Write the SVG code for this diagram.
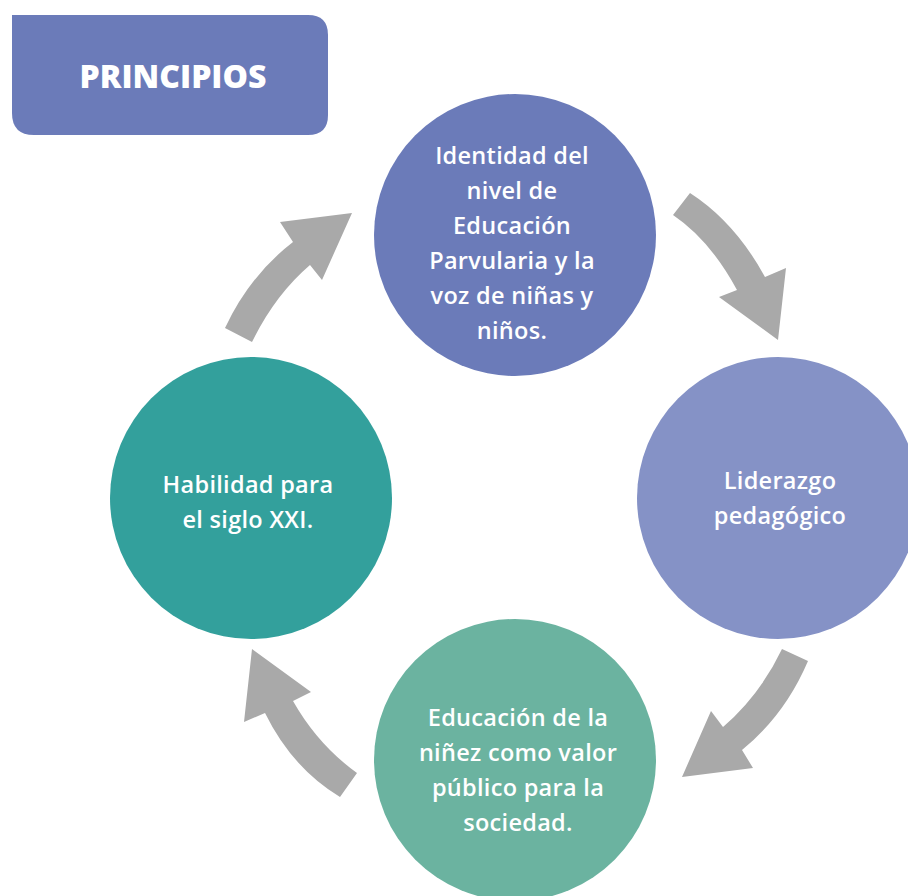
<svg xmlns="http://www.w3.org/2000/svg" width="908" height="896" viewBox="0 0 908 896">
<style>
.t{font-family:"Open Sans","Liberation Sans",sans-serif;font-weight:600;font-size:23.5px;letter-spacing:0.3px;fill:#fff;text-anchor:middle}
.ttl{font-family:"Open Sans","Liberation Sans",sans-serif;font-weight:800;font-size:32px;fill:#fff;text-anchor:middle}
.arr{fill:#a9a9a9}
</style>
<rect width="908" height="896" fill="#fff"/>
<g id="title">
<path d="M12,15 H308 Q328,15 328,35 V115 Q328,135 308,135 H34 Q12,135 12,113 Z" fill="#6b7bb9"/>
<text class="ttl" x="173" y="88">PRINCIPIOS</text>
</g>
<g id="connectors">
<path class="arr" d="M690,193 Q735,222 765,277 L786,268 L778,340 L719,297 L737,290 Q710,240 673,215 Z"/>
<path class="arr" d="M808,661 Q785,715 742,750 L753,768 L682,777 L711,711 L723,727 Q760,695 782,649 Z"/>
<path class="arr" d="M357,773 Q318,745 293,701 L311,692 L252,649 L244,722 L265,713 Q292,768 340,797 Z"/>
<path class="arr" d="M252,342 Q275,295 310,265 L322,280 L352,213 L280,222 L293,242 Q250,275 225,328 Z"/>
</g>
<g id="node-identidad">
<circle cx="515" cy="235" r="141" fill="#6b7bb9"/>
<text class="t" x="512" y="164">Identidad del</text>
<text class="t" x="512" y="199">nivel de</text>
<text class="t" x="512" y="234">Educación</text>
<text class="t" x="512" y="269">Parvularia y la</text>
<text class="t" x="512" y="304">voz de niñas y</text>
<text class="t" x="512" y="339">niños.</text>
</g>
<g id="node-liderazgo">
<circle cx="778" cy="498" r="141" fill="#8592c6"/>
<text class="t" x="780" y="489">Liderazgo</text>
<text class="t" x="780" y="524">pedagógico</text>
</g>
<g id="node-educacion">
<circle cx="515" cy="760" r="141" fill="#6bb3a0"/>
<text class="t" x="518" y="726">Educación de la</text>
<text class="t" x="518" y="761">niñez como valor</text>
<text class="t" x="518" y="796">público para la</text>
<text class="t" x="518" y="831">sociedad.</text>
</g>
<g id="node-habilidad">
<circle cx="251" cy="498" r="141" fill="#33a09c"/>
<text class="t" x="248" y="493">Habilidad para</text>
<text class="t" x="248" y="528">el siglo XXI.</text>
</g>
</svg>
